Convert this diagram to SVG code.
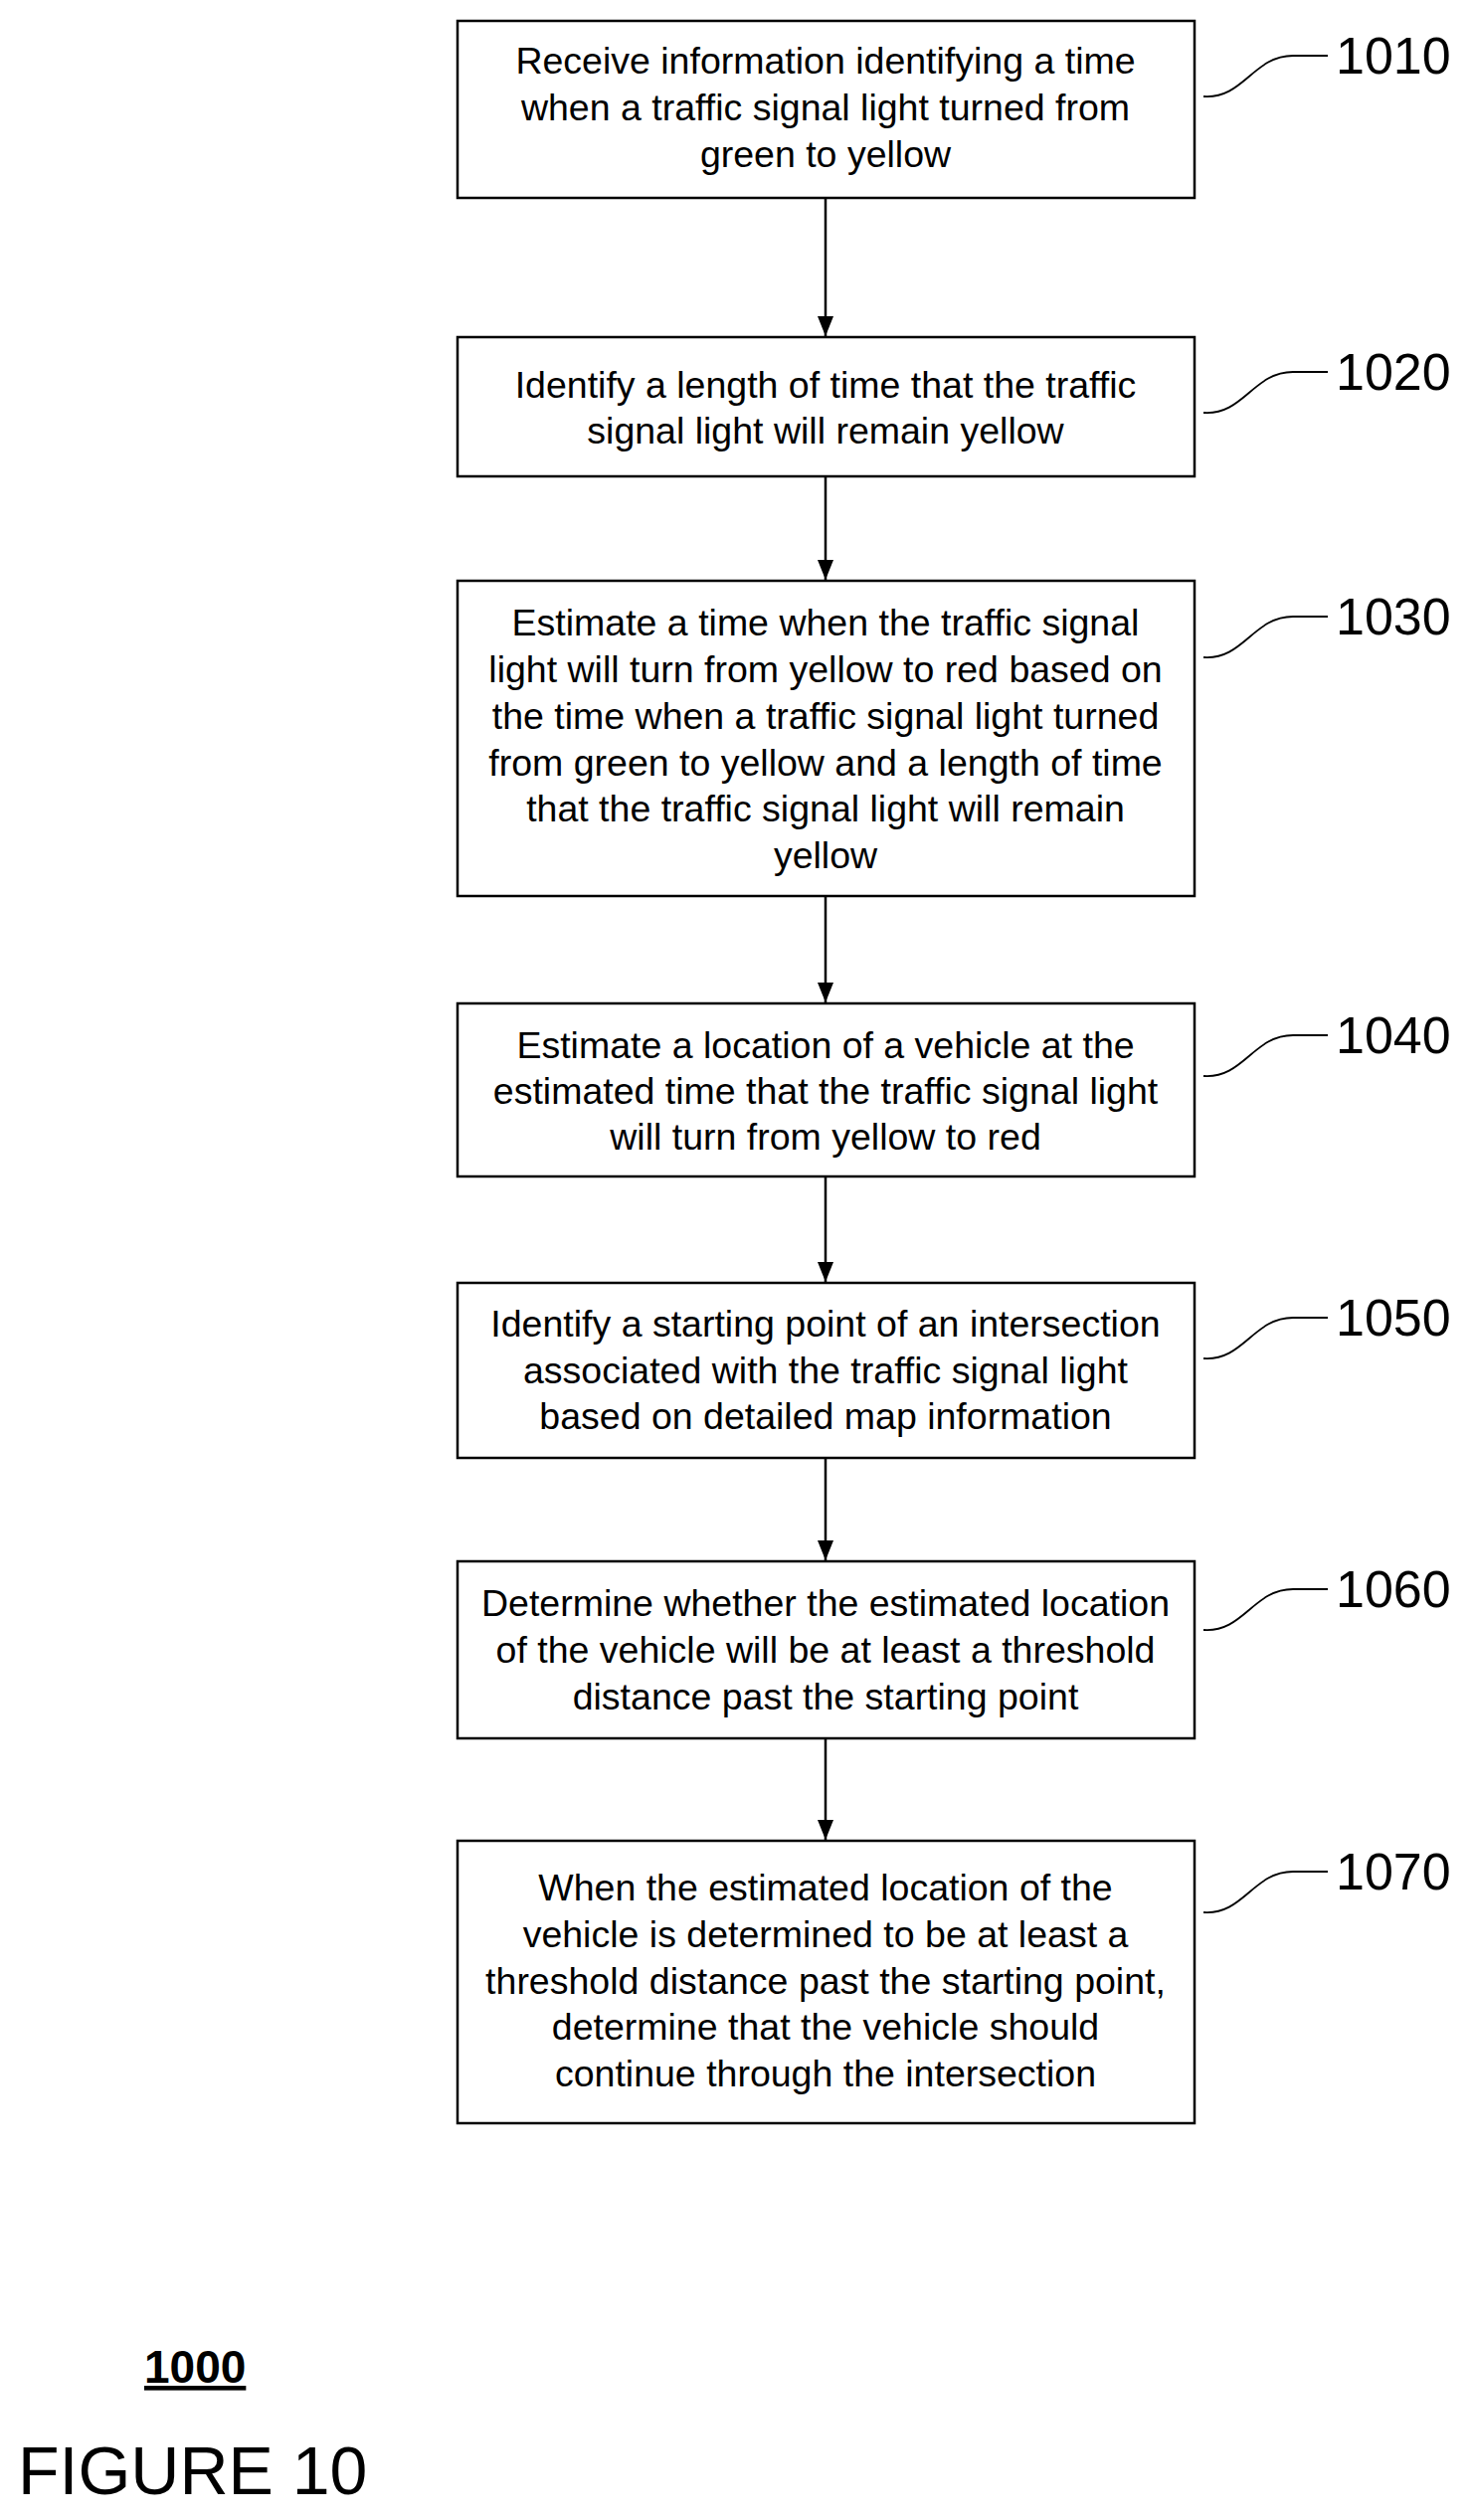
<svg xmlns="http://www.w3.org/2000/svg" width="1482" height="2534" viewBox="0 0 1482 2534">
<style>
.b{fill:#fff;stroke:#000;stroke-width:2.5}
.t{font-family:"Liberation Sans",Arial,sans-serif;font-size:37.5px;text-anchor:middle;fill:#000}
.l{font-family:"Liberation Sans",Arial,sans-serif;font-size:52px;fill:#000}
.s{fill:none;stroke:#000;stroke-width:1.8}
.c{stroke:#000;stroke-width:2.5;fill:none;marker-end:url(#a)}
</style>
<defs><marker id="a" markerWidth="22" markerHeight="22" refX="20" refY="11" orient="auto" markerUnits="userSpaceOnUse"><path d="M0,3 L20,11 L0,19 Z" fill="#000"/></marker></defs>
<rect width="1482" height="2534" fill="#fff"/>
<g id="connectors">
<line class="c" x1="830" y1="199" x2="830" y2="338"/>
<line class="c" x1="830" y1="479" x2="830" y2="583"/>
<line class="c" x1="830" y1="901" x2="830" y2="1008"/>
<line class="c" x1="830" y1="1183" x2="830" y2="1289"/>
<line class="c" x1="830" y1="1466" x2="830" y2="1569"/>
<line class="c" x1="830" y1="1748" x2="830" y2="1850"/>
</g>
<g id="n1010"><rect class="b" x="460" y="21" width="741" height="178"/>
<text class="t" x="830" y="74">Receive information identifying a time</text><text class="t" x="830" y="121">when a traffic signal light turned from</text><text class="t" x="830" y="168">green to yellow</text>
<path class="s" d="M1210,97 C1250,100 1260,56 1300,56 L1335,56"/><text class="l" x="1343" y="74">1010</text></g>
<g id="n1020"><rect class="b" x="460" y="339" width="741" height="140"/>
<text class="t" x="830" y="400">Identify a length of time that the traffic</text><text class="t" x="830" y="446">signal light will remain yellow</text>
<path class="s" d="M1210,415 C1250,418 1260,374 1300,374 L1335,374"/><text class="l" x="1343" y="392">1020</text></g>
<g id="n1030"><rect class="b" x="460" y="584" width="741" height="317"/>
<text class="t" x="830" y="639">Estimate a time when the traffic signal</text><text class="t" x="830" y="686">light will turn from yellow to red based on</text><text class="t" x="830" y="733">the time when a traffic signal light turned</text><text class="t" x="830" y="780">from green to yellow and a length of time</text><text class="t" x="830" y="826">that the traffic signal light will remain</text><text class="t" x="830" y="873">yellow</text>
<path class="s" d="M1210,661 C1250,664 1260,620 1300,620 L1335,620"/><text class="l" x="1343" y="638">1030</text></g>
<g id="n1040"><rect class="b" x="460" y="1009" width="741" height="174"/>
<text class="t" x="830" y="1064">Estimate a location of a vehicle at the</text><text class="t" x="830" y="1110">estimated time that the traffic signal light</text><text class="t" x="830" y="1156">will turn from yellow to red</text>
<path class="s" d="M1210,1082 C1250,1085 1260,1041 1300,1041 L1335,1041"/><text class="l" x="1343" y="1059">1040</text></g>
<g id="n1050"><rect class="b" x="460" y="1290" width="741" height="176"/>
<text class="t" x="830" y="1344">Identify a starting point of an intersection</text><text class="t" x="830" y="1391">associated with the traffic signal light</text><text class="t" x="830" y="1437">based on detailed map information</text>
<path class="s" d="M1210,1366 C1250,1369 1260,1325 1300,1325 L1335,1325"/><text class="l" x="1343" y="1343">1050</text></g>
<g id="n1060"><rect class="b" x="460" y="1570" width="741" height="178"/>
<text class="t" x="830" y="1625">Determine whether the estimated location</text><text class="t" x="830" y="1672">of the vehicle will be at least a threshold</text><text class="t" x="830" y="1719">distance past the starting point</text>
<path class="s" d="M1210,1639 C1250,1642 1260,1598 1300,1598 L1335,1598"/><text class="l" x="1343" y="1616">1060</text></g>
<g id="n1070"><rect class="b" x="460" y="1851" width="741" height="284"/>
<text class="t" x="830" y="1911">When the estimated location of the</text><text class="t" x="830" y="1958">vehicle is determined to be at least a</text><text class="t" x="830" y="2005">threshold distance past the starting point,</text><text class="t" x="830" y="2051">determine that the vehicle should</text><text class="t" x="830" y="2098">continue through the intersection</text>
<path class="s" d="M1210,1923 C1250,1926 1260,1882 1300,1882 L1335,1882"/><text class="l" x="1343" y="1900">1070</text></g>
<text x="145" y="2396" font-family="Liberation Sans,Arial,sans-serif" font-size="46" font-weight="bold" text-decoration="underline">1000</text>
<text x="18" y="2508" font-family="Liberation Sans,Arial,sans-serif" font-size="68">FIGURE 10</text>
</svg>
